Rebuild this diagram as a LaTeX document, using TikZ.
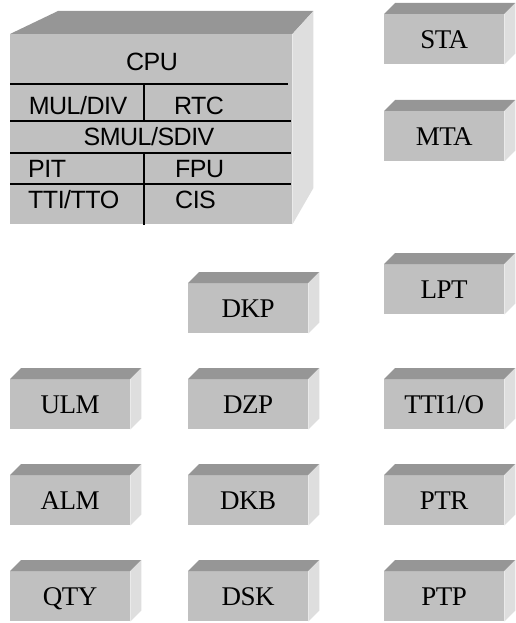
\documentclass[tikz,border=0pt]{standalone}
\usepackage{fontspec}
\setmainfont{Liberation Serif}[LetterSpace=-2]
\newfontfamily\cpufont{Liberation Sans}[LetterSpace=-2]
\definecolor{frontc}{HTML}{C0C0C0}
\definecolor{topc}{HTML}{969696}
\definecolor{sidec}{HTML}{DEDEDE}
\begin{document}
\begin{tikzpicture}[x=1pt,y=-1pt,
  blk/.style={anchor=north west, fill=frontc, minimum width=120pt, minimum height=50pt, inner sep=0pt,
    font=\fontsize{27}{27}\selectfont, text height=18pt, text depth=0pt},
  cpubox/.style={anchor=north west, fill=frontc, minimum width=282pt, minimum height=190pt, inner sep=0pt},
  ctext/.style={inner sep=0pt, font=\cpufont\fontsize{25}{25}\selectfont, text height=18pt, text depth=0pt},
  sep/.style={line width=1.2pt, black}]
\useasboundingbox (0,0) rectangle (515,623);
% CPU block
\node[cpubox] (cpu) at (10,34) {};
\fill[topc] (cpu.north west) -- (cpu.north east) -- ++(21,-23) -- (58,11) -- cycle;
\fill[sidec] (cpu.north east) -- ++(21,-23) -- ++(0,177) -- (cpu.south east) -- cycle;
\draw[sep] (10,84) -- (288,84);
\draw[sep] (10,121) -- (291,121);
\draw[sep] (10,153) -- (291,153);
\draw[sep] (10,184) -- (291,184);
\draw[sep] (144,84) -- (144,121);
\draw[sep] (144,153) -- (144,225);
\node[ctext] (cpul) at (152,62) {CPU};
\node[ctext] (muldiv) at (78,105) {MUL/DIV};
\node[ctext] (rtc) at (199,105) {RTC};
\node[ctext] (smul) at (149,136) {SMUL/SDIV};
\node[ctext, anchor=west] (pit) at (28,168) {PIT};
\node[ctext, anchor=west] (fpu) at (175,168) {FPU};
\node[ctext, anchor=west] (tti) at (28,199) {TTI/TTO};
\node[ctext, anchor=west] (cis) at (175,199) {CIS};
% small blocks
\node[blk] (sta) at (384,14) {STA};
\node[blk] (mta) at (384,111) {MTA};
\node[blk] (lpt) at (384,264) {LPT};
\node[blk] (dkp) at (188,283) {DKP};
\node[blk] (ulm) at (10,379) {ULM};
\node[blk] (dzp) at (188,379) {DZP};
\node[blk] (ttio) at (384,379) {TTI1/O};
\node[blk] (alm) at (10,475) {ALM};
\node[blk] (dkb) at (188,475) {DKB};
\node[blk] (ptr) at (384,475) {PTR};
\node[blk] (qty) at (10,571) {QTY};
\node[blk] (dsk) at (188,571) {DSK};
\node[blk] (ptp) at (384,571) {PTP};
\foreach \n in {sta,mta,lpt,dkp,ulm,dzp,ttio,alm,dkb,ptr,qty,dsk,ptp}{
  \fill[topc] (\n.north west) -- ++(11,-11) -- ([shift={(11,-11)}]\n.north east) -- (\n.north east) -- cycle;
  \fill[sidec] (\n.north east) -- ++(11,-11) -- ([shift={(11,-11)}]\n.south east) -- (\n.south east) -- cycle;
}
\end{tikzpicture}
\end{document}
